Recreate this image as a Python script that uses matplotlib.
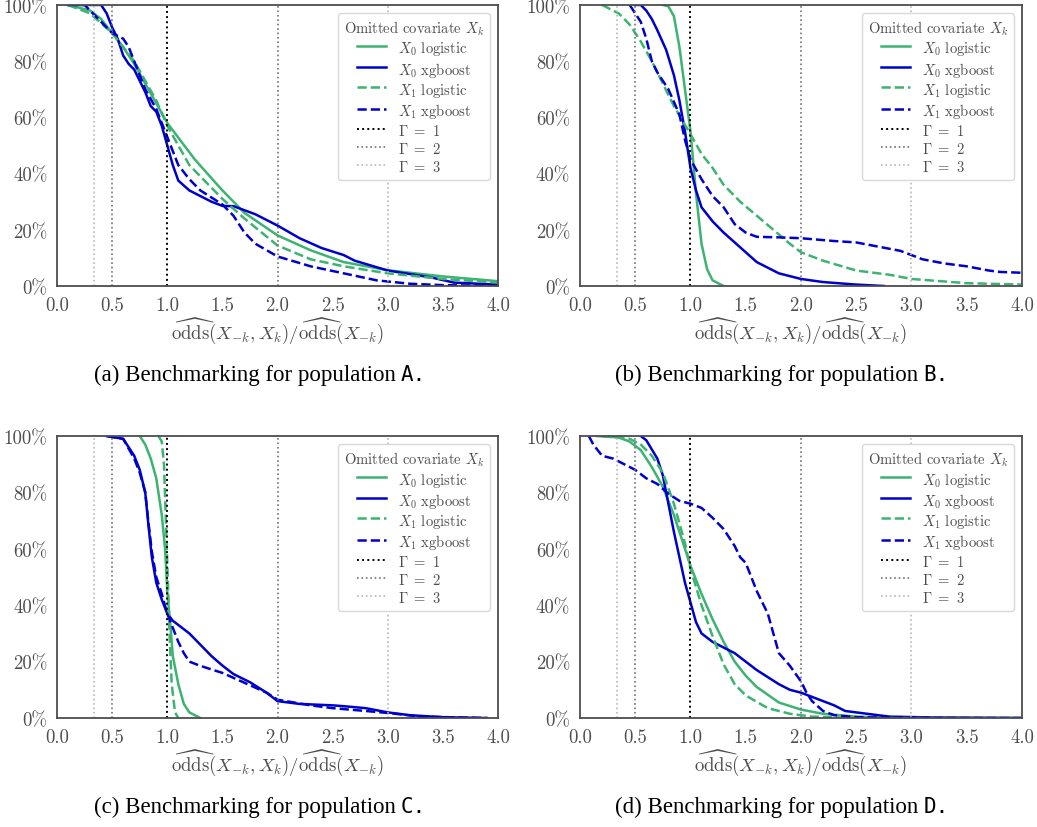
import matplotlib
matplotlib.use("Agg")
import matplotlib.pyplot as plt
from matplotlib.ticker import PercentFormatter, FormatStrFormatter, MultipleLocator

plt.rcParams["font.family"] = "cmr10"
plt.rcParams["mathtext.fontset"] = "cm"
plt.rcParams["axes.formatter.use_mathtext"] = True

GREEN = "#3CB371"
BLUE = "#0000CD"

# ---- population A ----
A_X0_LOG_X = [0.1, 0.3, 0.4, 0.5, 0.6, 0.7, 0.8, 0.9, 1.0, 1.25, 1.5, 1.7, 2.0, 2.3, 2.6, 3.0, 3.5, 4.0]
A_X0_LOG_Y = [1.0, 0.98, 0.95, 0.90, 0.85, 0.79, 0.72, 0.65, 0.58, 0.45, 0.34, 0.26, 0.18, 0.127, 0.085, 0.056, 0.034, 0.017]
A_X0_XGB_X = [0.1, 0.4, 0.45, 0.5, 0.55, 0.6, 0.65, 0.7, 0.8, 0.85, 0.9, 0.95, 1.0, 1.05, 1.1, 1.2, 1.3, 1.4, 1.5,
              1.6, 1.8, 2.0, 2.2, 2.4, 2.6, 2.7, 3.0, 3.4, 3.6, 4.0]
A_X0_XGB_Y = [1.0, 1.0, 0.97, 0.92, 0.88, 0.82, 0.79, 0.77, 0.69, 0.64, 0.62, 0.57, 0.50, 0.43, 0.375, 0.34, 0.32,
              0.30, 0.285, 0.284, 0.255, 0.215, 0.17, 0.135, 0.11, 0.09, 0.055, 0.03, 0.012, 0.005]
A_X1_LOG_X = [0.1, 0.3, 0.5, 0.7, 0.9, 1.0, 1.2, 1.5, 1.7, 2.0, 2.3, 2.6, 3.0, 3.5, 4.0]
A_X1_LOG_Y = [1.0, 0.97, 0.90, 0.80, 0.66, 0.57, 0.43, 0.31, 0.24, 0.144, 0.095, 0.07, 0.045, 0.025, 0.012]
A_X1_XGB_X = [0.1, 0.25, 0.35, 0.5, 0.6, 0.65, 0.7, 0.8, 0.9, 1.0, 1.1, 1.2, 1.3, 1.5, 1.6, 1.7, 1.8, 2.0, 2.3,
              2.6, 2.9, 3.2, 3.5, 4.0]
A_X1_XGB_Y = [1.0, 1.0, 0.96, 0.90, 0.88, 0.85, 0.80, 0.70, 0.63, 0.53, 0.43, 0.38, 0.34, 0.29, 0.25, 0.19, 0.15,
              0.105, 0.07, 0.045, 0.02, 0.008, 0.003, 0.0]

# ---- population B ----
B_X0_LOG_X = [0.75, 0.8, 0.85, 0.9, 0.95, 1.0, 1.05, 1.1, 1.15, 1.2, 1.3]
B_X0_LOG_Y = [1.0, 0.995, 0.96, 0.85, 0.70, 0.55, 0.33, 0.15, 0.06, 0.02, 0.0]
B_X0_XGB_X = [0.5, 0.55, 0.6, 0.65, 0.7, 0.78, 0.85, 0.9, 0.95, 1.0, 1.05, 1.1, 1.2, 1.3, 1.5, 1.6, 1.8, 2.0,
              2.2, 2.5, 2.75]
B_X0_XGB_Y = [1.0, 1.0, 0.98, 0.95, 0.91, 0.84, 0.75, 0.66, 0.55, 0.42, 0.34, 0.28, 0.23, 0.19, 0.12, 0.085,
              0.045, 0.025, 0.014, 0.005, 0.0]
B_X1_LOG_X = [0.2, 0.35, 0.45, 0.55, 0.65, 0.75, 0.85, 1.0, 1.1, 1.2, 1.3, 1.45, 1.6, 1.75, 1.9, 2.0, 2.2, 2.5,
              2.8, 3.0, 3.5, 4.0]
B_X1_LOG_Y = [1.0, 0.97, 0.93, 0.87, 0.80, 0.72, 0.64, 0.54, 0.47, 0.42, 0.36, 0.30, 0.25, 0.20, 0.15, 0.12,
              0.09, 0.055, 0.04, 0.025, 0.01, 0.005]
B_X1_XGB_X = [0.45, 0.55, 0.6, 0.65, 0.7, 0.8, 0.9, 0.95, 1.0, 1.1, 1.2, 1.3, 1.4, 1.5, 1.6, 1.8, 2.0, 2.3, 2.5,
              2.7, 2.9, 3.0, 3.1, 3.3, 3.5, 3.7, 3.8, 4.0]
B_X1_XGB_Y = [1.0, 0.94, 0.88, 0.80, 0.76, 0.70, 0.61, 0.52, 0.45, 0.38, 0.32, 0.28, 0.22, 0.19, 0.175, 0.173,
              0.17, 0.16, 0.155, 0.14, 0.125, 0.11, 0.095, 0.08, 0.07, 0.055, 0.05, 0.047]

# ---- population C ----
C_X0_LOG_X = [0.75, 0.8, 0.85, 0.9, 0.95, 0.98, 1.0, 1.03, 1.05, 1.1, 1.15, 1.2, 1.3]
C_X0_LOG_Y = [1.0, 0.97, 0.92, 0.85, 0.72, 0.60, 0.45, 0.32, 0.22, 0.12, 0.05, 0.02, 0.0]
C_X0_XGB_X = [0.45, 0.6, 0.7, 0.75, 0.8, 0.83, 0.86, 0.9, 0.95, 1.0, 1.05, 1.1, 1.2, 1.3, 1.4, 1.5, 1.6, 1.75,
              1.9, 2.0, 2.2, 2.5, 2.6, 2.8, 3.0, 3.2, 3.5, 3.9]
C_X0_XGB_Y = [1.0, 0.99, 0.93, 0.88, 0.80, 0.68, 0.57, 0.48, 0.42, 0.37, 0.345, 0.33, 0.30, 0.26, 0.22, 0.186,
              0.156, 0.127, 0.09, 0.06, 0.05, 0.045, 0.042, 0.035, 0.02, 0.01, 0.003, 0.0]
C_X1_LOG_X = [0.92, 0.95, 0.97, 1.0, 1.02, 1.04, 1.07, 1.1]
C_X1_LOG_Y = [1.0, 0.98, 0.90, 0.55, 0.30, 0.12, 0.02, 0.0]
C_X1_XGB_X = [0.45, 0.6, 0.7, 0.75, 0.8, 0.83, 0.86, 0.9, 0.95, 1.0, 1.05, 1.1, 1.15, 1.2, 1.3, 1.5, 1.7, 1.9,
              2.0, 2.3, 2.5, 2.8, 3.0, 3.3, 3.9]
C_X1_XGB_Y = [1.0, 0.99, 0.92, 0.87, 0.80, 0.69, 0.59, 0.50, 0.44, 0.37, 0.32, 0.27, 0.23, 0.20, 0.185, 0.16,
              0.125, 0.09, 0.065, 0.045, 0.035, 0.025, 0.018, 0.005, 0.0]

# ---- population D ----
D_X0_LOG_X = [0.15, 0.35, 0.45, 0.55, 0.65, 0.75, 0.85, 0.95, 1.0, 1.1, 1.2, 1.3, 1.4, 1.5, 1.6, 1.8, 2.0, 2.2,
              2.5, 3.0, 4.0]
D_X0_LOG_Y = [1.0, 0.995, 0.98, 0.95, 0.89, 0.82, 0.72, 0.60, 0.54, 0.44, 0.35, 0.27, 0.20, 0.15, 0.11, 0.055,
              0.03, 0.015, 0.005, 0.0, 0.0]
D_X0_XGB_X = [0.55, 0.6, 0.7, 0.75, 0.8, 0.85, 0.9, 0.95, 1.0, 1.05, 1.1, 1.2, 1.3, 1.4, 1.5, 1.6, 1.7, 1.8,
              1.9, 2.0, 2.1, 2.2, 2.3, 2.4, 2.6, 2.8, 3.2, 4.0]
D_X0_XGB_Y = [1.0, 0.985, 0.92, 0.86, 0.76, 0.66, 0.57, 0.48, 0.41, 0.34, 0.30, 0.27, 0.25, 0.23, 0.20, 0.17,
              0.145, 0.12, 0.10, 0.09, 0.075, 0.06, 0.045, 0.025, 0.015, 0.005, 0.002, 0.0]
D_X1_LOG_X = [0.2, 0.45, 0.55, 0.65, 0.75, 0.85, 0.95, 1.0, 1.1, 1.2, 1.3, 1.4, 1.5, 1.7, 1.9, 2.1, 2.5, 4.0]
D_X1_LOG_Y = [1.0, 0.99, 0.97, 0.93, 0.87, 0.76, 0.62, 0.53, 0.40, 0.29, 0.19, 0.12, 0.08, 0.035, 0.015, 0.005,
              0.0, 0.0]
D_X1_XGB_X = [0.08, 0.12, 0.2, 0.3, 0.4, 0.5, 0.6, 0.7, 0.8, 0.9, 1.0, 1.1, 1.2, 1.3, 1.4, 1.45, 1.5, 1.6, 1.7,
              1.75, 1.8, 1.9, 2.0, 2.05, 2.1, 2.2, 2.3, 2.5, 3.0, 4.0]
D_X1_XGB_Y = [1.0, 0.97, 0.93, 0.92, 0.90, 0.88, 0.85, 0.83, 0.795, 0.77, 0.76, 0.745, 0.71, 0.67, 0.61, 0.57,
              0.55, 0.45, 0.37, 0.30, 0.23, 0.185, 0.13, 0.09, 0.06, 0.025, 0.01, 0.003, 0.0, 0.0]

PANELS = [
    ("a", "A", (A_X0_LOG_X, A_X0_LOG_Y), (A_X0_XGB_X, A_X0_XGB_Y), (A_X1_LOG_X, A_X1_LOG_Y), (A_X1_XGB_X, A_X1_XGB_Y)),
    ("b", "B", (B_X0_LOG_X, B_X0_LOG_Y), (B_X0_XGB_X, B_X0_XGB_Y), (B_X1_LOG_X, B_X1_LOG_Y), (B_X1_XGB_X, B_X1_XGB_Y)),
    ("c", "C", (C_X0_LOG_X, C_X0_LOG_Y), (C_X0_XGB_X, C_X0_XGB_Y), (C_X1_LOG_X, C_X1_LOG_Y), (C_X1_XGB_X, C_X1_XGB_Y)),
    ("d", "D", (D_X0_LOG_X, D_X0_LOG_Y), (D_X0_XGB_X, D_X0_XGB_Y), (D_X1_LOG_X, D_X1_LOG_Y), (D_X1_XGB_X, D_X1_XGB_Y)),
]

# axes boxes in figure fractions: left, bottom, width, height
BOXES = [
    (0.055, 0.6534, 0.4253, 0.3394),
    (0.5593, 0.6534, 0.4262, 0.3394),
    (0.055, 0.1316, 0.4253, 0.3406),
    (0.5593, 0.1316, 0.4262, 0.3406),
]
CAPTION_POS = [(257, 375), (779, 375), (257, 807), (779, 807)]

fig = plt.figure(figsize=(10.37, 8.28), dpi=100)

for (tag, pop, x0l, x0x, x1l, x1x), box, cpos in zip(PANELS, BOXES, CAPTION_POS):
    ax = fig.add_axes(box)
    ax.plot(*x0l, color=GREEN, lw=1.8, label=r"$X_0$ logistic")
    ax.plot(*x0x, color=BLUE, lw=1.8, label=r"$X_0$ xgboost")
    ax.plot(*x1l, color=GREEN, lw=1.8, ls="--", label=r"$X_1$ logistic")
    ax.plot(*x1x, color=BLUE, lw=1.8, ls="--", label=r"$X_1$ xgboost")
    ax.axvline(1.0, color="black", ls=":", lw=1.4, label=r"$\Gamma\ =\ 1$")
    ax.axvline(0.5, color="0.45", ls=":", lw=1.2, label=r"$\Gamma\ =\ 2$")
    ax.axvline(2.0, color="0.45", ls=":", lw=1.2)
    ax.axvline(1 / 3, color="0.72", ls=":", lw=1.2, label=r"$\Gamma\ =\ 3$")
    ax.axvline(3.0, color="0.72", ls=":", lw=1.2)

    ax.set_xlim(0, 4)
    ax.set_ylim(0, 1)
    ax.xaxis.set_major_locator(MultipleLocator(0.5))
    ax.xaxis.set_major_formatter(FormatStrFormatter("%.1f"))
    ax.yaxis.set_major_locator(MultipleLocator(0.2))
    ax.yaxis.set_major_formatter(PercentFormatter(1.0, decimals=0))
    ax.tick_params(length=0, labelsize=13.5, labelcolor="0.3", pad=7)
    for s in ax.spines.values():
        s.set_color("0.3")
        s.set_linewidth(1.3)
    ax.set_xlabel(r"$\widehat{\mathrm{odds}}(X_{-k}, X_k)/\widehat{\mathrm{odds}}(X_{-k})$",
                  fontsize=13.5, color="0.3", labelpad=1)

    # taller handle box so every legend row gets the same height
    leg = ax.legend(loc="upper right", title=r"Omitted covariate $X_k$", fontsize=10.5,
                    title_fontsize=10.5, frameon=True, framealpha=1, edgecolor="0.85",
                    borderaxespad=0.55, labelspacing=0.15, handlelength=2.0, handleheight=1.3)
    for t in leg.get_texts():
        t.set_color("0.3")
    leg.get_title().set_color("0.3")

    cap = fig.text(cpos[0] / 1037 - 0.012, 1 - cpos[1] / 828, f"({tag}) Benchmarking for population",
                   ha="center", va="center", fontsize=16.5, family="Liberation Serif")
    fig.canvas.draw()
    bb = cap.get_window_extent()
    fig.text(bb.x1 / 1037 + 0.005, 1 - cpos[1] / 828, f"{pop}.", ha="left", va="center",
             fontsize=15, family="DejaVu Sans Mono")

fig.savefig("out.png", dpi=100)
